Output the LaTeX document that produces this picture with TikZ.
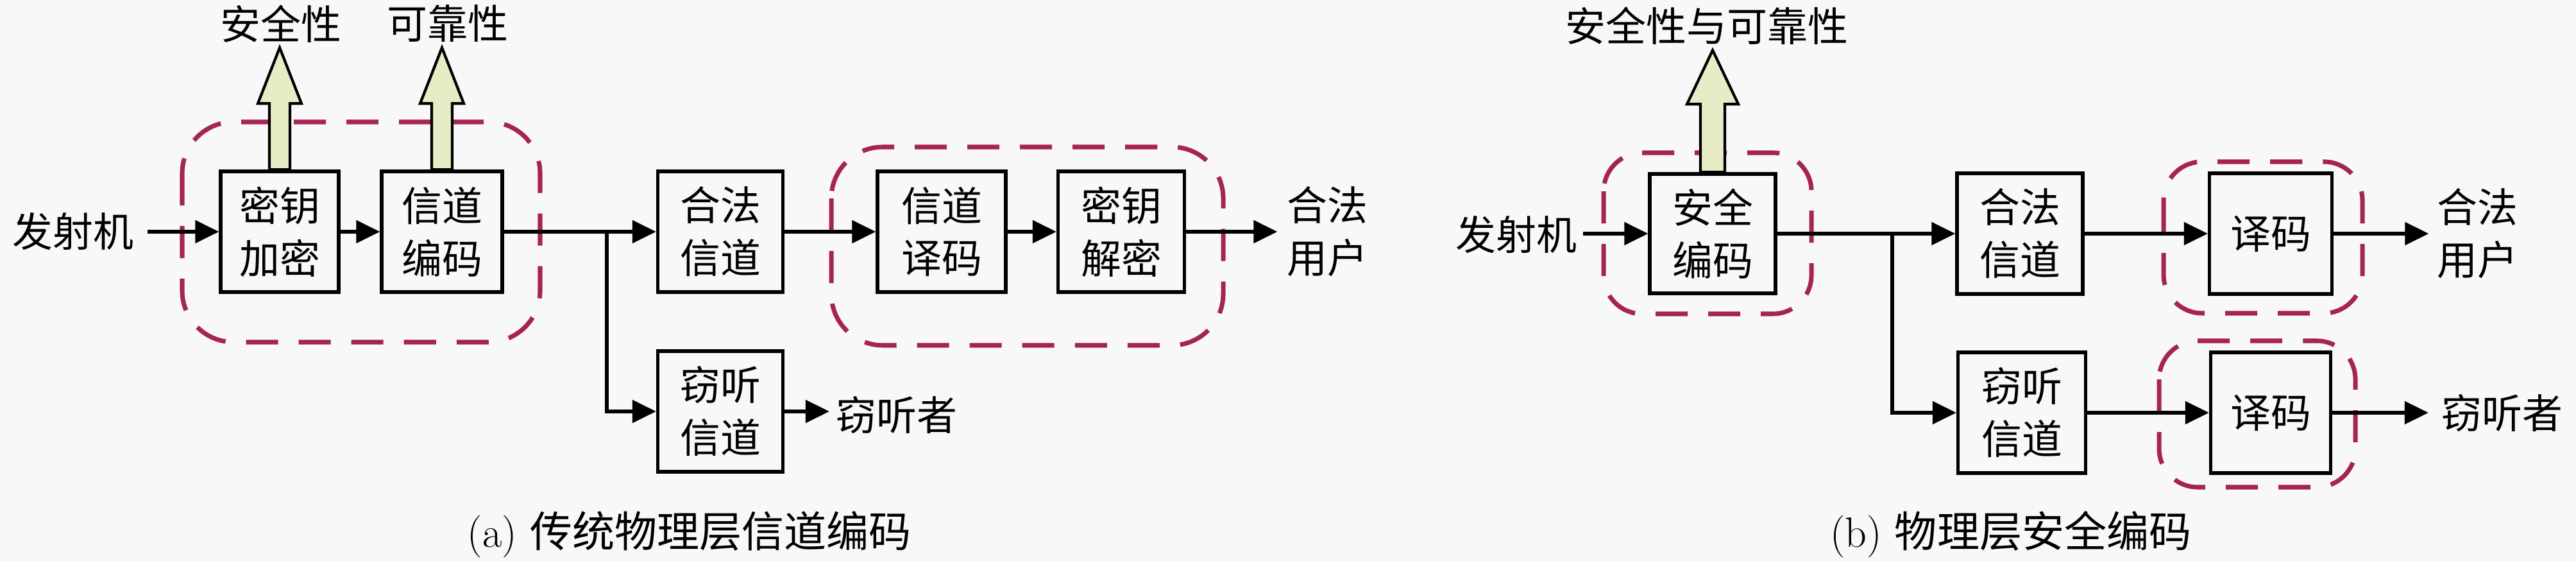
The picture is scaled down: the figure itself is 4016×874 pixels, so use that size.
\documentclass[tikz,border=0pt]{standalone}
\usepackage{fontspec}
\newfontfamily\cjk{Noto Sans CJK SC}
\usetikzlibrary{arrows.meta,calc}
\definecolor{bg}{RGB}{248,248,248}
\definecolor{dashc}{RGB}{165,35,85}
\definecolor{upfill}{RGB}{232,236,198}
\begin{document}
\begin{tikzpicture}[x=0.01cm,y=-0.01cm,
 box/.style={draw,line width=1.5pt,minimum width=1.9cm,minimum height=1.88cm,inner sep=0pt,align=center,font=\cjk\fontsize{17.9}{23.3}\selectfont},
 lbl/.style={inner sep=0pt,align=center,font=\cjk\fontsize{17.9}{23.3}\selectfont},
 captext/.style={inner sep=0pt,font=\fontsize{18.8}{22}\selectfont},
 conn/.style={line width=1.5pt,-{Triangle[length=0.37cm,width=0.35cm]}},
 plainline/.style={line width=1.5pt},
 grp/.style={draw=dashc,line width=2pt,dash pattern=on 0.5cm off 0.32cm,rounded corners=0.8cm},
 grps/.style={grp,rounded corners=0.6cm},
 uparr/.style={draw,line width=1.2pt,fill=upfill,line join=miter}]
\fill[bg] (0,0) rectangle (4016,874);
\useasboundingbox (0,0) rectangle (4016,874);

% ---------- panel (a) ----------
\draw[grp] (284,190) rectangle (842,533);
\draw[grp] (1296,229) rectangle (1907,538);

\node[lbl] (txa) at (114,361) {发射机};
\node[box,minimum width=1.84cm] (k1) at (436,361) {密钥\\加密};
\node[box,minimum width=1.88cm] (k2) at (689,361) {信道\\编码};
\node[box,minimum width=1.95cm] (hfa) at (1123,361) {合法\\信道};
\node[box,minimum width=1.95cm] (qta) at (1123,641) {窃听\\信道};
\node[box,minimum width=2.0cm] (d1a) at (1468,361) {信道\\译码};
\node[box,minimum width=1.97cm] (d2a) at (1748,361) {密钥\\解密};
\node[lbl] (usera) at (2069,361) {合法\\用户};
\node[lbl] (eavea) at (1398,647) {窃听者};
\node[lbl] (sa) at (438,37) {安全性};
\node[lbl] (ra) at (698,37) {可靠性};

\draw[uparr] (k1.north) ++(-16,0) -- ++(0,-103) -- ++(-18,0) -- ++(34,-87) -- ++(34,87) -- ++(-18,0) -- ++(0,103) -- cycle;
\draw[uparr] (k2.north) ++(-16,0) -- ++(0,-103) -- ++(-18,0) -- ++(34,-87) -- ++(34,87) -- ++(-18,0) -- ++(0,103) -- cycle;

\coordinate (sa0) at (230,361);
\coordinate (ba) at (946,361);
\draw[conn] (sa0) -- (k1.west);
\draw[conn] (k1) -- (k2);
\draw[plainline] (k2.east) -- (ba);
\draw[conn] (ba) -- (hfa.west);
\draw[conn] (ba) |- (qta.west);
\draw[conn] (hfa) -- (d1a);
\draw[conn] (d1a) -- (d2a);
\draw[conn,shorten >=0.14cm] (d2a.east) -- (d2a.east -| usera.west);
\draw[conn,shorten >=0.1cm] (qta.east) -- (qta.east -| eavea.west);

\node[captext] (capa) at (1075,833) {(a) {\cjk 传统物理层信道编码}};

% ---------- panel (b) ----------
\draw[grps] (2500,238) rectangle (2824,489);
\draw[grps] (3373,252) rectangle (3683,488);
\draw[grps] (3366,531) rectangle (3672,759);

\node[lbl] (txb) at (2364,366) {发射机};
\node[box,minimum width=1.96cm,minimum height=1.86cm] (sc) at (2670,364) {安全\\编码};
\node[lbl] (srb) at (2661,40) {安全性与可靠性};
\node[box,minimum width=1.96cm] (hfb) at (3149,364) {合法\\信道};
\node[box,minimum width=1.99cm] (qtb) at (3152,643) {窃听\\信道};
\node[box,minimum width=1.91cm] (dbt) at (3540,364) {译码};
\node[box,minimum width=1.87cm] (dbb) at (3540,643) {译码};
\node[lbl] (userb) at (3862,364) {合法\\用户};
\node[lbl] (eaveb) at (3901,644) {窃听者};

\draw[uparr] (sc.north) ++(-19,0) -- ++(0,-106) -- ++(-21,0) -- ++(40,-84) -- ++(40,84) -- ++(-21,0) -- ++(0,106) -- cycle;

\coordinate (sb0) at (2468,364);
\coordinate (bb) at (2950,364);
\draw[conn] (sb0) -- (sc.west);
\draw[plainline] (sc.east) -- (bb);
\draw[conn] (bb) -- (hfb.west);
\draw[conn] (bb) |- (qtb.west);
\draw[conn] (hfb) -- (dbt);
\draw[conn] (qtb) -- (dbb);
\draw[conn,shorten >=0.12cm] (dbt.east) -- (dbt.east -| userb.west);
\draw[conn,shorten >=0.2cm] (dbb.east) -- (dbb.east -| eaveb.west);

\node[captext] (capb) at (3135,833) {(b) {\cjk 物理层安全编码}};
\end{tikzpicture}
\end{document}
